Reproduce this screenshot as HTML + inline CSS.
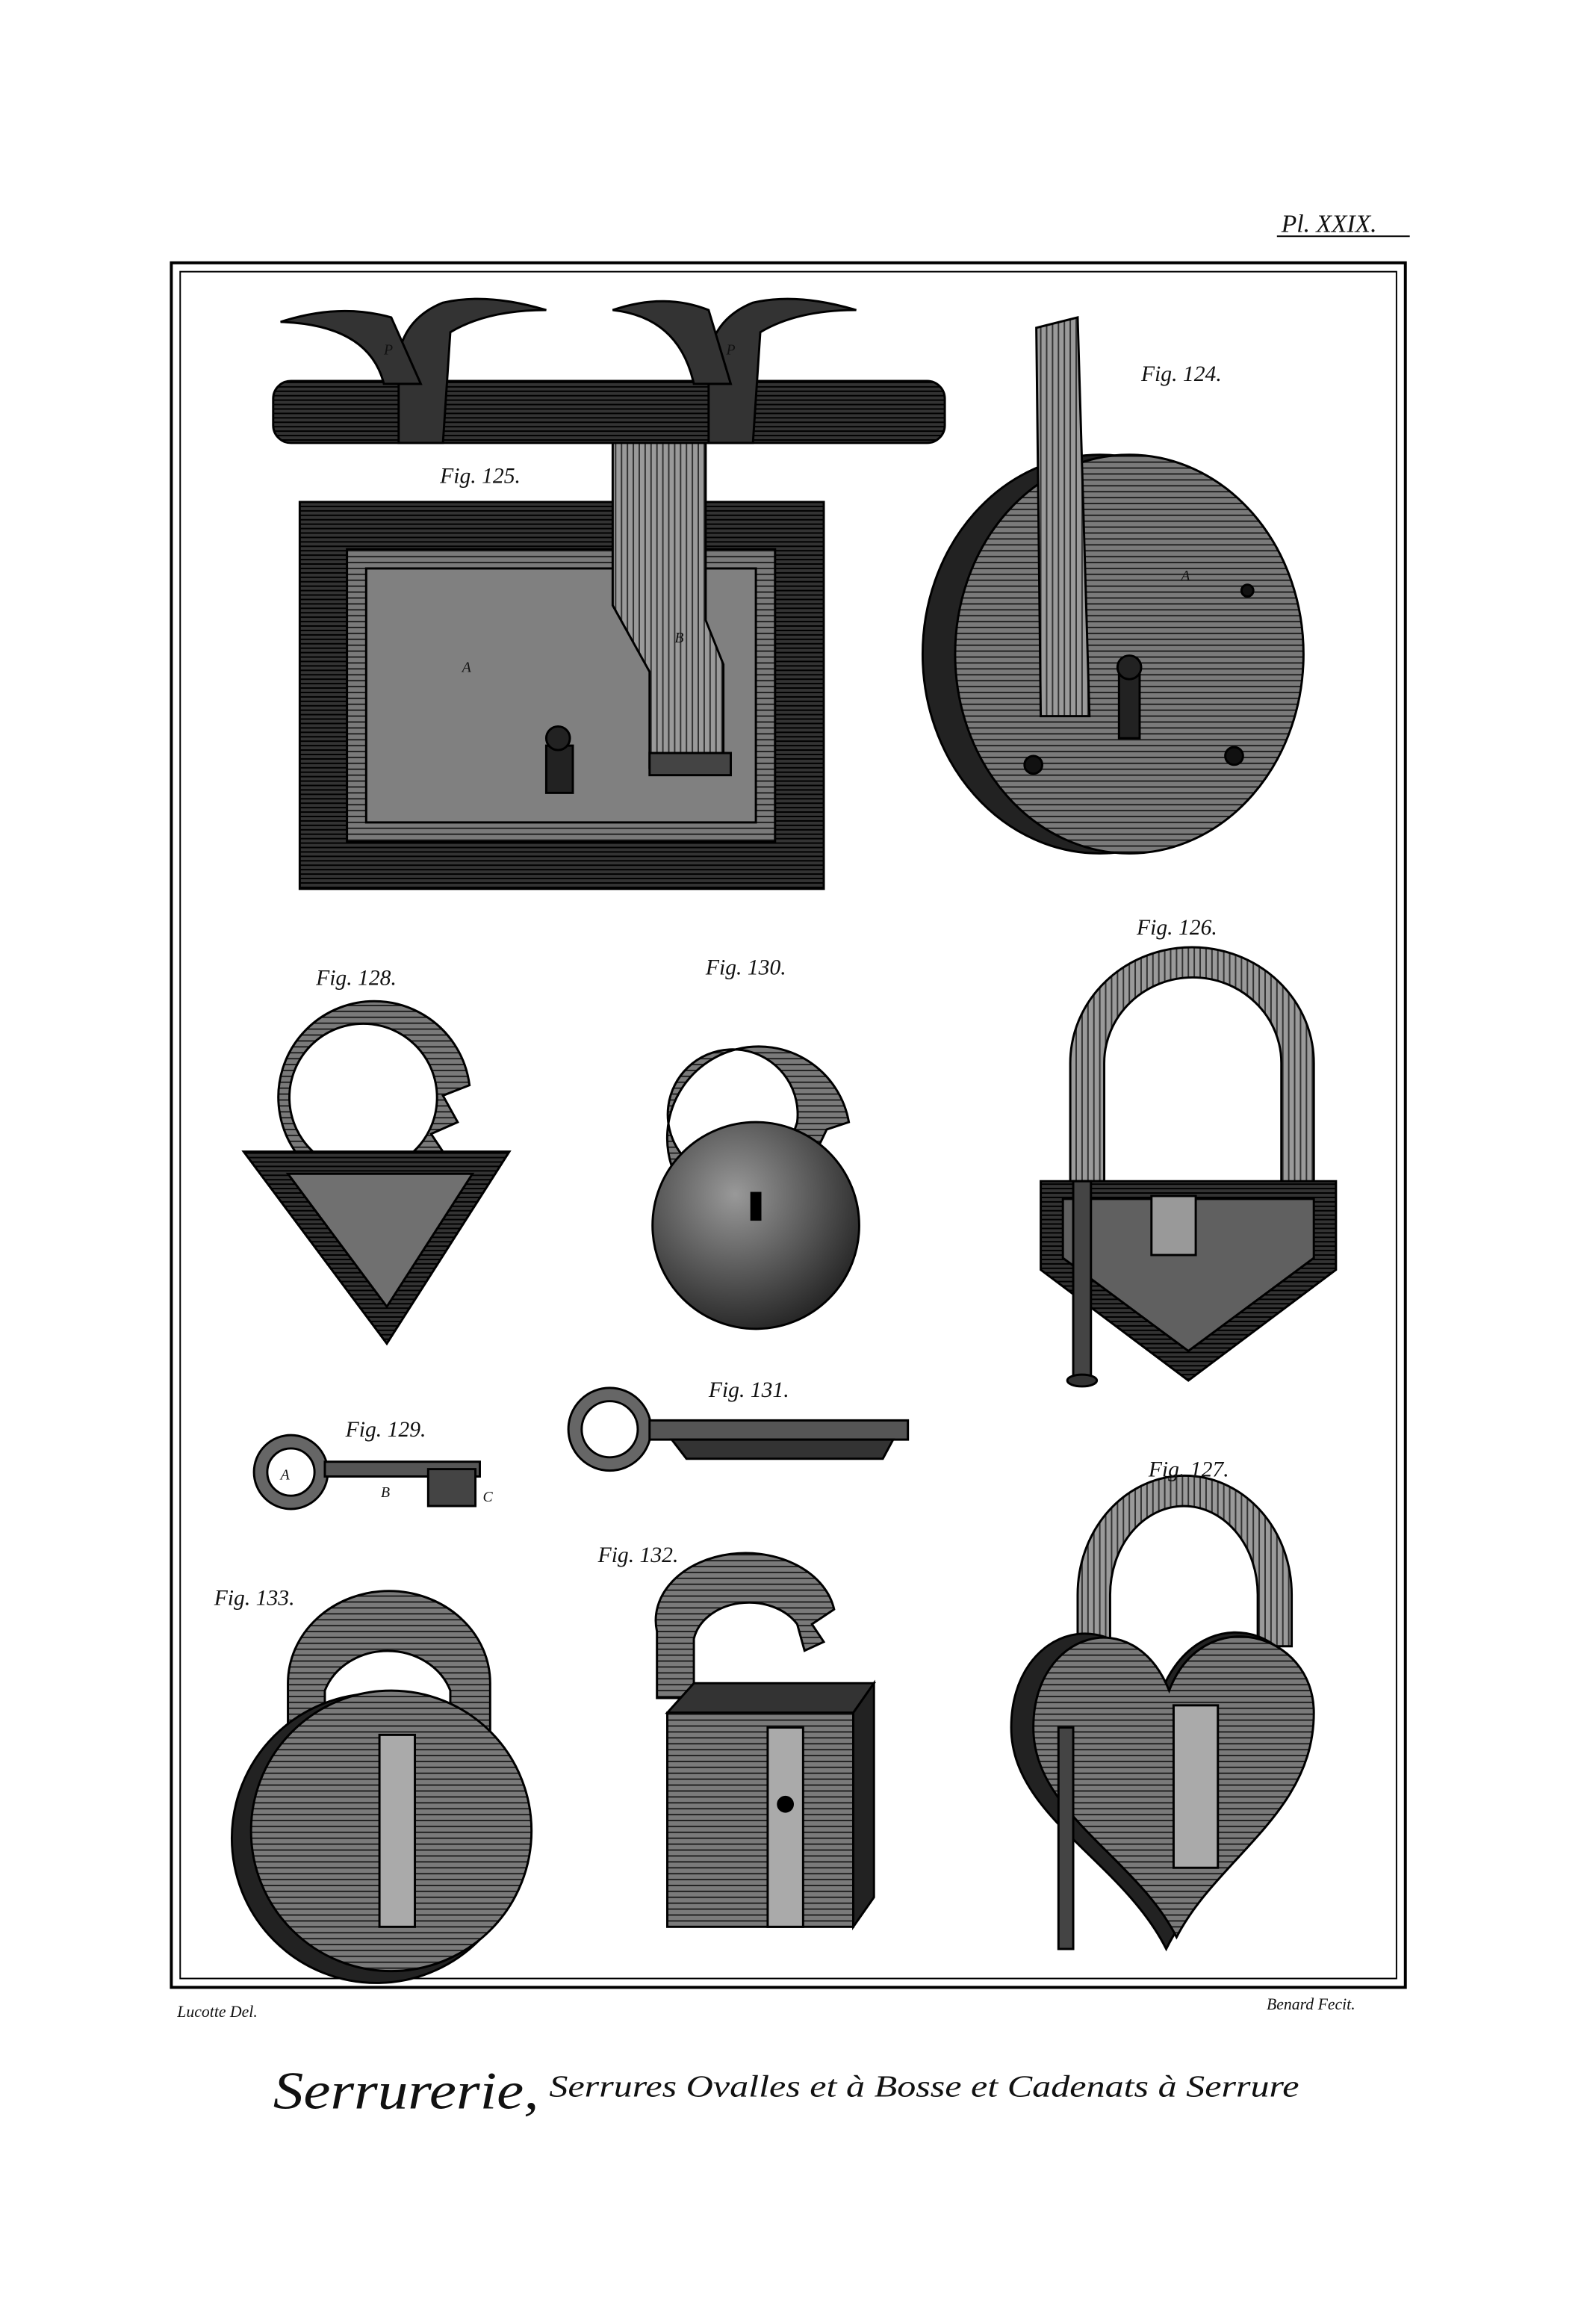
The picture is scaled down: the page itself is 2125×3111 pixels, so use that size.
<!DOCTYPE html>
<html><head><meta charset="utf-8"><style>
html,body{margin:0;padding:0;background:#fff}
svg{display:block}
text{font-family:"Liberation Serif",serif;font-style:italic;fill:#111}
</style></head><body>
<svg width="2125" height="3111" viewBox="0 0 1075 1574" xmlns="http://www.w3.org/2000/svg">
<defs>
<pattern id="h" width="4" height="4" patternUnits="userSpaceOnUse"><rect width="4" height="4" fill="#7a7a7a"/><line x1="0" y1="1" x2="4" y2="1" stroke="#222" stroke-width="1"/></pattern>
<pattern id="hv" width="4" height="4" patternUnits="userSpaceOnUse"><rect width="4" height="4" fill="#9a9a9a"/><line x1="1" y1="0" x2="1" y2="4" stroke="#333" stroke-width="1"/></pattern>
<pattern id="d" width="3" height="3" patternUnits="userSpaceOnUse"><rect width="3" height="3" fill="#333"/><line x1="0" y1="1" x2="3" y2="1" stroke="#000" stroke-width="1"/></pattern>
<radialGradient id="sph" cx="0.4" cy="0.35" r="0.7"><stop offset="0" stop-color="#999"/><stop offset="1" stop-color="#222"/></radialGradient>
</defs>
<g stroke="#000" stroke-width="1.5">
<rect x="116" y="178" width="836" height="1168" fill="none" stroke-width="2"/>
<rect x="122" y="184" width="824" height="1156" fill="none" stroke-width="1"/>
</g>
<text x="868" y="157" font-size="17">Pl. XXIX.</text>
<line x1="865" y1="160" x2="955" y2="160" stroke="#000"/>

<!-- Fig 125 -->
<g stroke="#000" stroke-width="1.5">
<rect x="203" y="340" width="355" height="262" fill="url(#d)"/>
<rect x="235" y="372" width="290" height="198" fill="url(#h)"/>
<rect x="248" y="385" width="264" height="172" fill="#808080"/>
<path d="M415 295 H478 V420 L490 450 V520 H440 V455 L415 410 Z" fill="url(#hv)"/>
<rect x="440" y="510" width="55" height="15" fill="#444"/>
<rect x="185" y="258" width="455" height="42" rx="12" fill="url(#d)"/>
<path d="M270 300 V240 Q275 215 300 205 Q330 198 370 210 Q330 210 305 225 L300 300 Z" fill="#333"/>
<path d="M190 218 Q230 205 265 215 L285 260 L260 260 Q250 220 190 218 Z" fill="#333"/>
<path d="M480 300 V240 Q485 215 510 205 Q540 198 580 210 Q540 210 515 225 L510 300 Z" fill="#333"/>
<path d="M415 210 Q450 198 480 210 L495 260 L470 260 Q460 215 415 210 Z" fill="#333"/>
<rect x="370" y="505" width="18" height="32" fill="#222"/>
<circle cx="378" cy="500" r="8" fill="#222"/>
</g>
<text x="298" y="327" font-size="15">Fig. 125.</text>
<text x="313" y="455" font-size="10">A</text>
<text x="457" y="435" font-size="10">B</text>
<text x="260" y="240" font-size="10">P</text>
<text x="492" y="240" font-size="10">P</text>

<!-- Fig 124 -->
<g stroke="#000" stroke-width="1.5">
<ellipse cx="745" cy="443" rx="120" ry="135" fill="#222"/>
<ellipse cx="765" cy="443" rx="118" ry="135" fill="url(#h)"/>
<path d="M702 222 L730 215 L738 485 H705 Z" fill="url(#hv)"/>
<rect x="758" y="455" width="14" height="45" fill="#222"/>
<circle cx="765" cy="452" r="8" fill="#222"/>
<circle cx="700" cy="518" r="6" fill="#111"/><circle cx="836" cy="512" r="6" fill="#111"/><circle cx="845" cy="400" r="4" fill="#111"/>
</g>
<text x="773" y="258" font-size="15">Fig. 124.</text>
<text x="800" y="393" font-size="10">A</text>

<!-- Fig 128 -->
<g stroke="#000" stroke-width="1.5">
<path d="M200 780 A65 65 0 1 1 318 735 L300 742 L310 760 L292 768 L300 780 L280 780 A50 50 0 1 0 212 780 Z" fill="url(#h)"/>
<path d="M165 780 H345 L262 910 Z" fill="url(#d)"/>
<path d="M195 795 H320 L262 885 Z" fill="#707070"/>
</g>
<text x="214" y="667" font-size="15">Fig. 128.</text>

<!-- Fig 130 -->
<g stroke="#000" stroke-width="1.5">
<path d="M455 790 A62 62 0 1 1 575 760 L560 765 L548 790 L530 790 L540 760 A44 44 0 1 0 470 790 Z" fill="url(#h)"/>
<circle cx="512" cy="830" r="70" fill="url(#sph)"/>
<rect x="509" y="808" width="6" height="18" fill="#000"/>
</g>
<text x="478" y="660" font-size="15">Fig. 130.</text>

<!-- Fig 126 -->
<g stroke="#000" stroke-width="1.5">
<path d="M725 800 V720 A82 78 0 0 1 890 720 V815 H868 V720 A60 58 0 0 0 748 720 V800 Z" fill="url(#hv)"/>
<path d="M705 800 H905 V860 L805 935 L705 860 Z" fill="url(#d)"/>
<path d="M720 812 H890 V852 L805 915 L720 852 Z" fill="#606060"/>
<rect x="727" y="800" width="12" height="135" fill="#444"/>
<ellipse cx="733" cy="935" rx="10" ry="4" fill="#333"/>
<rect x="780" y="810" width="30" height="40" fill="#999"/>
</g>
<text x="770" y="633" font-size="15">Fig. 126.</text>

<!-- Fig 129 -->
<g stroke="#000" stroke-width="1.5">
<circle cx="197" cy="997" r="25" fill="#666"/><circle cx="197" cy="997" r="16" fill="#fff"/>
<rect x="220" y="990" width="105" height="10" fill="#555"/>
<rect x="290" y="995" width="32" height="25" fill="#444"/>
</g>
<text x="234" y="973" font-size="15">Fig. 129.</text>
<text x="190" y="1002" font-size="10">A</text><text x="258" y="1014" font-size="10">B</text><text x="327" y="1017" font-size="10">C</text>

<!-- Fig 131 -->
<g stroke="#000" stroke-width="1.5">
<circle cx="413" cy="968" r="28" fill="#666"/><circle cx="413" cy="968" r="19" fill="#fff"/>
<path d="M440 962 H615 V975 H440 Z" fill="#555"/>
<path d="M455 975 H605 L598 988 H465 Z" fill="#333"/>
</g>
<text x="480" y="946" font-size="15">Fig. 131.</text>

<!-- Fig 133 -->
<g stroke="#000" stroke-width="1.5">
<path d="M195 1170 V1140 A68 62 0 0 1 332 1140 V1180 H305 V1145 A45 40 0 0 0 220 1145 V1170 Z" fill="url(#h)"/>
<circle cx="255" cy="1245" r="98" fill="#222"/>
<circle cx="265" cy="1240" r="95" fill="url(#h)"/>
<rect x="257" y="1175" width="24" height="130" fill="#aaa"/>
</g>
<text x="145" y="1087" font-size="15">Fig. 133.</text>

<!-- Fig 132 -->
<g stroke="#000" stroke-width="1.5">
<path d="M445 1150 V1105 A60 45 0 0 1 565 1090 L550 1100 L558 1112 L545 1118 L540 1100 A38 30 0 0 0 470 1110 V1150 Z" fill="url(#h)"/>
<path d="M452 1160 L470 1140 H592 L578 1160 Z" fill="#333"/>
<rect x="452" y="1160" width="126" height="145" fill="url(#h)"/>
<path d="M578 1160 L592 1140 V1285 L578 1305 Z" fill="#222"/>
<rect x="520" y="1170" width="24" height="135" fill="#aaa"/>
<circle cx="532" cy="1222" r="5" fill="#000"/>
</g>
<text x="405" y="1058" font-size="15">Fig. 132.</text>

<!-- Fig 127 -->
<g stroke="#000" stroke-width="1.5">
<path d="M730 1110 V1080 A72 80 0 0 1 875 1080 V1115 H852 V1080 A50 60 0 0 0 752 1080 V1110 Z" fill="url(#hv)"/>
<path d="M785 1150 C760 1080 685 1100 685 1170 C685 1230 760 1260 790 1320 C820 1260 885 1230 885 1160 C885 1100 810 1080 785 1150 Z" fill="#222"/>
<path d="M792 1145 C768 1085 700 1105 700 1170 C700 1228 770 1258 797 1312 C825 1258 890 1228 890 1160 C890 1105 815 1085 792 1145 Z" fill="url(#h)"/>
<rect x="795" y="1155" width="30" height="110" fill="#aaa"/>
<rect x="717" y="1170" width="10" height="150" fill="#444"/>
</g>
<text x="778" y="1000" font-size="15">Fig. 127.</text>

<!-- captions -->
<text x="120" y="1366" font-size="11">Lucotte Del.</text>
<text x="858" y="1361" font-size="11">Benard Fecit.</text>
<text x="185" y="1428" font-size="36" textLength="180" lengthAdjust="spacingAndGlyphs">Serrurerie,</text>
<text x="372" y="1420" font-size="21" textLength="508" lengthAdjust="spacingAndGlyphs">Serrures Ovalles et à Bosse et Cadenats à Serrure</text>
</svg>
</body></html>
